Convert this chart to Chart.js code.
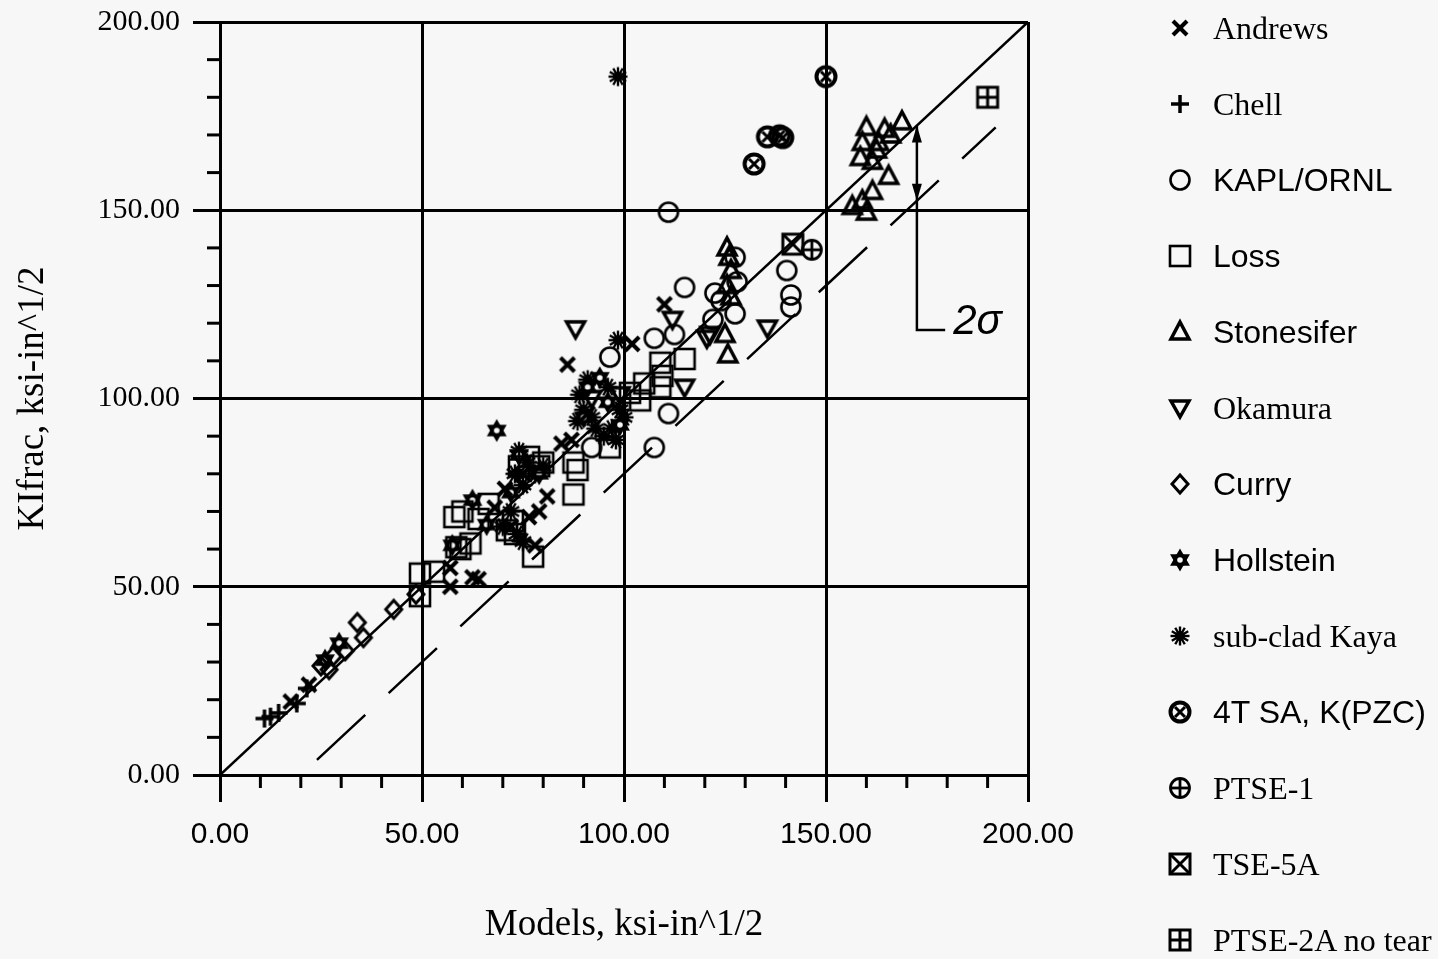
<!DOCTYPE html>
<html>
<head>
<meta charset="utf-8">
<script src="https://cdn.jsdelivr.net/npm/chart.js@4.4.1/dist/chart.umd.min.js"></script>
<style>
  html, body { margin: 0; padding: 0; background: #f7f7f7; }
  #wrap { position: relative; width: 1438px; height: 959px; overflow: hidden; }
  #legend { position: absolute; left: 1166px; top: -10px; }
  .row { height: 76px; display: flex; align-items: center; white-space: nowrap; font-size: 32px; color: #000; }
  .row canvas { width: 28px; height: 28px; margin-right: 19px; }
  .serif { font-family: "Liberation Serif", "Times New Roman", serif; }
  .sans { font-family: "Liberation Sans", Arial, sans-serif; }
</style>
</head>
<body>
<div id="wrap">
  <canvas id="kChart"></canvas>
  <div id="legend"></div>
</div>
<script>
// --- data (Models, KIfrac), ksi-in^1/2 ---
const andrews = [[17.5,19.5],[22,24],[57,50],[64,52],[57,55],[62.5,52.5],[70.5,76],[72,66],[76.5,68.5],[79,70],[81,74],[78,61],[84.5,88],[87,89],[86,109],[102,114.5],[110,125],[91,96],[68,71],[75,80]];
const chell = [[11,15],[12.5,15.5],[14.5,16.5],[19,19],[21.5,23]];
const kapl = [[111,149.5],[115,129.5],[122.5,128],[127.5,137.5],[128,131],[127.5,122.5],[122,121],[112.5,117],[107.5,116],[96.5,111],[111,96],[107.5,87],[92,87],[140.3,134],[141.3,127.5],[141.3,124.3],[124,126]];
const loss = [[49.5,47.5],[49.5,53.5],[53,54],[58,68.5],[59.5,60],[60,70],[58.5,60.5],[62,61.5],[66.5,72],[71,65],[73,64],[72.5,67.5],[77.5,58],[76.5,84.5],[79,82],[87.5,83],[87.5,74.5],[88.5,81],[96.5,87],[101.5,101.5],[104,99.5],[105,104],[109,103],[109,109.5],[109.5,106],[115,110.5],[74,82],[80,83],[64,68]];
const stonesifer = [[160,172],[164.5,171.5],[168.8,173.5],[159,168],[162.5,166],[158.5,164],[161.5,163],[165.5,159],[161.5,155],[156.5,151],[160,149.5],[159,152.5],[163,168],[166,170],[125.5,140],[126,137.5],[126.5,134],[125.5,130],[126.5,127],[125,117],[125.7,111.6]];
const okamura = [[88,118.5],[135.5,118.7],[115,103],[120.5,116],[121.3,117],[112,121],[92,100],[99,101]];
const curry = [[25,29],[27,28],[28,31.5],[31,33],[34,40.5],[35.5,36.5],[43,44],[48.5,48]];
const hollstein = [[26,30.5],[29.5,35],[68.5,91.5],[62.5,73],[57.5,61],[66,66.5],[72,75],[74,85],[94,105.5],[91,103],[96,99],[99,93],[90,95],[79,80]];
const kaya = [[98.5,185.5],[98.5,115.5],[74,86],[73,80],[76,83],[78,80],[75,77],[80,82],[73.5,64],[75,62],[89,101],[90,97],[92,95],[93,92],[95,90],[97,92],[98,89],[96,103],[88.5,94],[91,105],[99,97],[100,95],[72,70],[70,66]];
const fourT = [[150,185.5],[135.5,169.5],[138.5,169.8],[139.3,169.3],[132.2,162.3]];
const ptse1 = [[146.5,139.5]];
const tse5a = [[141.8,141]];
const ptse2a = [[190,180]];

const seriesNames = ['Andrews', 'Chell', 'KAPL/ORNL', 'Loss', 'Stonesifer', 'Okamura', 'Curry', 'Hollstein', 'sub-clad Kaya', '4T SA, K(PZC)', 'PTSE-1', 'TSE-5A', 'PTSE-2A no tear'];
const seriesData = [andrews, chell, kapl, loss, stonesifer, okamura, curry, hollstein, kaya, fourT, ptse1, tse5a, ptse2a];
const seriesMarkers = ['cross', 'plus', 'circle', 'square', 'triUp', 'triDown', 'diamond', 'star6', 'asterisk', 'circX', 'circPlus', 'sqX', 'sqPlus'];
const seriesFonts = ['serif', 'serif', 'sans', 'sans', 'sans', 'serif', 'sans', 'sans', 'serif', 'sans', 'serif', 'serif', 'serif'];

// reference lines
const equalityLine = [[0,0],[200,200]];
const minus2Sigma = [[24,4],[192,172]];
const sigmaBracket = [[172.5,172.5],[172.5,118.2],[179.5,118.2]];
const sigmaArrows = [[172.5,172.5,-1],[172.5,152.5,1]]; // x, y, direction
const sigmaText = '2σ';

const majorTicks = [0, 50, 100, 150, 200];
const minorTicks = [10,20,30,40,60,70,80,90,110,120,130,140,160,170,180,190];

const toXY = arr => arr.map(p => ({ x: p[0], y: p[1] }));

// draw a marker symbol into a small canvas
function makeMarker(kind) {
    const cv = document.createElement('canvas');
    cv.width = 28; cv.height = 28;
    const g = cv.getContext('2d');
    const c = 14;
    g.strokeStyle = '#000';
    g.fillStyle = '#000';
    g.lineJoin = 'miter';
    const line = (x1, y1, x2, y2) => { g.beginPath(); g.moveTo(x1, y1); g.lineTo(x2, y2); g.stroke(); };
    switch (kind) {
        case 'cross':
            g.lineWidth = 4;
            line(c - 7, c - 7, c + 7, c + 7); line(c + 7, c - 7, c - 7, c + 7);
            break;
        case 'plus':
            g.lineWidth = 3.5;
            line(c - 9, c, c + 9, c); line(c, c - 9, c, c + 9);
            break;
        case 'circle':
            g.lineWidth = 2.6;
            g.beginPath(); g.arc(c, c, 9.5, 0, Math.PI * 2); g.stroke();
            break;
        case 'square':
            g.lineWidth = 2.6;
            g.strokeRect(c - 10, c - 10, 20, 20);
            break;
        case 'triUp':
            g.lineWidth = 3.5;
            g.beginPath(); g.moveTo(c, c - 10); g.lineTo(c + 9, c + 7); g.lineTo(c - 9, c + 7); g.closePath(); g.stroke();
            break;
        case 'triDown':
            g.lineWidth = 3.5;
            g.beginPath(); g.moveTo(c, c + 9); g.lineTo(c + 9, c - 7); g.lineTo(c - 9, c - 7); g.closePath(); g.stroke();
            break;
        case 'diamond':
            g.lineWidth = 3;
            g.beginPath(); g.moveTo(c, c - 9); g.lineTo(c + 8, c); g.lineTo(c, c + 9); g.lineTo(c - 8, c); g.closePath(); g.stroke();
            break;
        case 'star6':
            for (let t = 0; t < 2; t++) {
                g.beginPath();
                for (let k = 0; k < 3; k++) {
                    const a = -Math.PI / 2 + t * Math.PI + k * 2 * Math.PI / 3;
                    const px = c + 11.5 * Math.cos(a), py = c + 11.5 * Math.sin(a);
                    k === 0 ? g.moveTo(px, py) : g.lineTo(px, py);
                }
                g.closePath(); g.fill();
            }
            g.beginPath(); g.arc(c, c, 6.5, 0, Math.PI * 2); g.fill();
            g.fillStyle = '#f7f7f7';
            g.beginPath(); g.arc(c, c, 2.8, 0, Math.PI * 2); g.fill();
            break;
        case 'asterisk':
            // sunburst: spokes all round a solid core
            g.lineWidth = 2.4;
            for (let k = 0; k < 12; k++) {
                const a = k * Math.PI / 6;
                line(c, c, c + 9.5 * Math.cos(a), c + 9.5 * Math.sin(a));
            }
            g.beginPath(); g.arc(c, c, 5, 0, Math.PI * 2); g.fill();
            break;
        case 'circX':
            g.lineWidth = 4;
            g.beginPath(); g.arc(c, c, 9.5, 0, Math.PI * 2); g.stroke();
            g.lineWidth = 3;
            line(c - 5, c - 5, c + 5, c + 5); line(c + 5, c - 5, c - 5, c + 5);
            break;
        case 'circPlus':
            g.lineWidth = 2.8;
            g.beginPath(); g.arc(c, c, 9.5, 0, Math.PI * 2); g.stroke();
            line(c - 9.5, c, c + 9.5, c); line(c, c - 9.5, c, c + 9.5);
            break;
        case 'sqX':
            g.lineWidth = 3;
            g.strokeRect(c - 10, c - 10, 20, 20);
            line(c - 10, c - 10, c + 10, c + 10); line(c + 10, c - 10, c - 10, c + 10);
            break;
        case 'sqPlus':
            g.lineWidth = 3;
            g.strokeRect(c - 10, c - 10, 20, 20);
            line(c - 10, c, c + 10, c); line(c, c - 10, c, c + 10);
            break;
    }
    return cv;
}

const markerCanvases = seriesMarkers.map(makeMarker);

// minor ticks, arrowheads and the 2 sigma label
const extrasPlugin = {
    id: 'extras',
    afterDraw(chart) {
        const { ctx, scales: { x, y } } = chart;
        ctx.save();
        ctx.strokeStyle = '#000';
        ctx.fillStyle = '#000';
        ctx.lineWidth = 3;
        minorTicks.forEach(v => {
            const px = x.getPixelForValue(v);
            ctx.beginPath(); ctx.moveTo(px, y.bottom); ctx.lineTo(px, y.bottom + 13); ctx.stroke();
            const py = y.getPixelForValue(v);
            ctx.beginPath(); ctx.moveTo(x.left, py); ctx.lineTo(x.left - 13, py); ctx.stroke();
        });
        sigmaArrows.forEach(a => {
            const px = x.getPixelForValue(a[0]);
            const py = y.getPixelForValue(a[1]);
            const base = py - a[2] * 17;
            ctx.beginPath();
            ctx.moveTo(px, py); ctx.lineTo(px + 5, base); ctx.lineTo(px - 5, base); ctx.closePath();
            ctx.fill();
        });
        const last = sigmaBracket[sigmaBracket.length - 1];
        ctx.font = 'italic 42px "Liberation Sans", Arial, sans-serif';
        ctx.textBaseline = 'middle';
        ctx.textAlign = 'left';
        ctx.fillText(sigmaText, x.getPixelForValue(last[0]) + 8, y.getPixelForValue(last[1]) - 8);
        ctx.restore();
    }
};

const datasets = seriesData.map((d, i) => ({
    label: seriesNames[i],
    data: toXY(d),
    pointStyle: markerCanvases[i],
    pointRadius: 10,
    showLine: false
}));

const lineSet = (d, dash) => ({
    label: '',
    data: toXY(d),
    showLine: true,
    borderColor: '#000',
    borderWidth: 2.5,
    borderDash: dash,
    pointRadius: 0,
    fill: false
});
datasets.push(lineSet(equalityLine, []));
datasets.push(lineSet(minus2Sigma, [66, 32]));
datasets.push(lineSet(sigmaBracket, []));

const isMajor = v => majorTicks.includes(v);
const gridColor = ctx => (ctx.tick && isMajor(ctx.tick.value)) ? '#000' : 'rgba(0,0,0,0)';

new Chart(document.getElementById('kChart'), {
    type: 'scatter',
    data: { datasets: datasets },
    options: {
        responsive: true,
        maintainAspectRatio: false,
        animation: false,
        events: [],
        layout: { padding: { top: 22, right: 410, left: 0, bottom: 0 } },
        plugins: { legend: { display: false }, tooltip: { enabled: false } },
        scales: {
            x: {
                type: 'linear',
                min: 0, max: 200,
                afterFit: s => { s.height = 184; s.paddingLeft = 0; s.paddingRight = 0; },
                border: { display: true, color: '#000', width: 3 },
                grid: { color: gridColor, tickColor: gridColor, lineWidth: 3, tickWidth: 3, tickLength: 27 },
                ticks: {
                    stepSize: 10, autoSkip: false, maxRotation: 0, padding: 15,
                    color: '#000',
                    font: { family: '"Liberation Sans", Arial, sans-serif', size: 30 },
                    callback: v => isMajor(v) ? v.toFixed(2) : ''
                },
                title: {
                    display: true, text: 'Models, ksi-in^1/2', color: '#000',
                    font: { family: '"Liberation Serif", "Times New Roman", serif', size: 37 },
                    padding: { top: 0, bottom: 12 }
                }
            },
            y: {
                type: 'linear',
                min: 0, max: 200,
                afterFit: s => { s.width = 220; s.paddingTop = 0; s.paddingBottom = 0; },
                border: { display: true, color: '#000', width: 3 },
                grid: { color: gridColor, tickColor: gridColor, lineWidth: 3, tickWidth: 3, tickLength: 27 },
                ticks: {
                    stepSize: 10, autoSkip: false, padding: 13,
                    color: '#000',
                    font: { family: '"Liberation Serif", "Times New Roman", serif', size: 30 },
                    callback: v => isMajor(v) ? v.toFixed(2) : ''
                },
                title: {
                    display: true, text: 'KIfrac, ksi-in^1/2', color: '#000',
                    font: { family: '"Liberation Serif", "Times New Roman", serif', size: 37 },
                    padding: { top: 11, bottom: 0 }
                }
            }
        }
    },
    plugins: [extrasPlugin]
});

// legend on the right, one row per series
const legend = document.getElementById('legend');
seriesNames.forEach((name, i) => {
    const row = document.createElement('div');
    row.className = 'row ' + seriesFonts[i];
    const mk = makeMarker(seriesMarkers[i]);
    row.appendChild(mk);
    const span = document.createElement('span');
    span.textContent = name;
    row.appendChild(span);
    legend.appendChild(row);
});
</script>
</body>
</html>
